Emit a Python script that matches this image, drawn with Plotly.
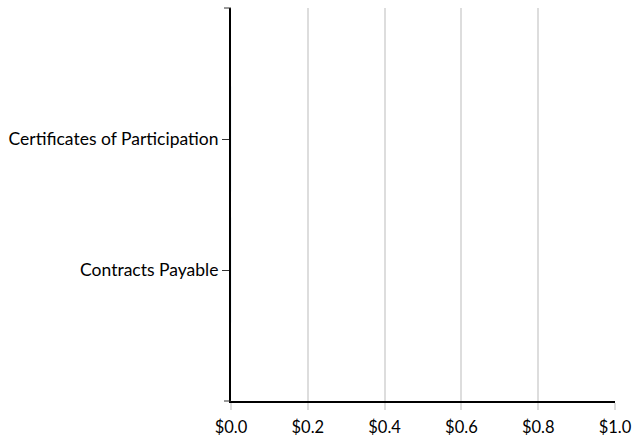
import plotly.graph_objects as go

categories = ["Certificates of Participation", "Contracts Payable"]
values = [0.0, 0.0]
x_ticks = [0.0, 0.2, 0.4, 0.6, 0.8, 1.0]

FONT = "Lato, Carlito, Calibri, sans-serif"

fig = go.Figure()
fig.add_trace(go.Bar(
    x=values, y=categories, orientation="h",
    marker_color="#4472C4", showlegend=False,
))

fig.update_layout(
    width=632, height=439,
    margin=dict(l=231, r=17, t=8, b=38, pad=0),
    paper_bgcolor="white", plot_bgcolor="white",
    font=dict(family=FONT, size=16, color="black"),
    xaxis=dict(
        range=[0, 1], tickvals=x_ticks, tickformat="$.1f",
        showgrid=True, gridcolor="#dddddd", gridwidth=2,
        zeroline=False, showline=True, linecolor="black", linewidth=2,
        ticks="outside", ticklen=7, tickcolor="#dddddd", tickwidth=2,
        ticklabelstandoff=3, automargin=False,
        tickfont=dict(family=FONT, size=16.5, color="black"),
        fixedrange=True,
    ),
    yaxis=dict(
        type="category", categoryorder="array", categoryarray=categories,
        range=[2, -1], automargin=False,
        showgrid=False, zeroline=False,
        showline=True, linecolor="black", linewidth=2,
        ticks="outside", ticklen=7, tickcolor="#333333", tickwidth=1,
        tickfont=dict(family=FONT, size=17.5, color="black"),
        fixedrange=True,
    ),
    shapes=[
        dict(type="line", xref="paper", yref="paper", xsizemode="pixel", xanchor=0,
             x0=-7, x1=0, y0=1, y1=1, line=dict(color="#333333", width=1)),
        dict(type="line", xref="paper", yref="paper", xsizemode="pixel", xanchor=0,
             x0=-7, x1=0, y0=0, y1=0, line=dict(color="#333333", width=1)),
    ],
)

fig.write_html(
    "out.html",
    config={"displayModeBar": False},
    post_script="document.body.style.margin='0';document.body.style.overflow='hidden';",
)
